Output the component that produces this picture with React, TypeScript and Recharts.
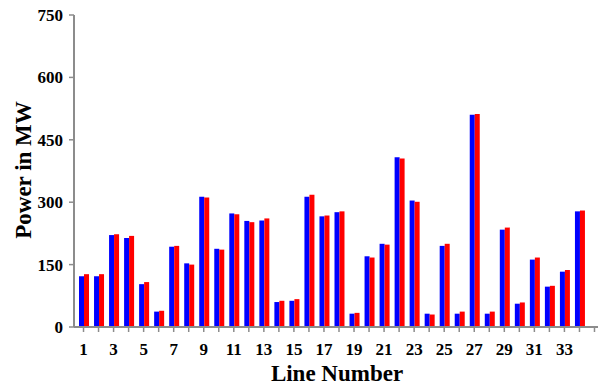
import { BarChart, Bar, XAxis, YAxis } from "recharts";

// ── Data ──────────────────────────────────────────────────────────────────────
const lineNumbers = [
  1, 2, 3, 4, 5, 6, 7, 8, 9, 10, 11, 12, 13, 14, 15, 16, 17,
  18, 19, 20, 21, 22, 23, 24, 25, 26, 27, 28, 29, 30, 31, 32, 33, 34,
];
const bluePower = [
  122, 122, 221, 214, 103, 37, 193, 153, 313, 188, 273, 255, 256, 60, 63, 313, 266,
  276, 32, 170, 200, 408, 304, 32, 195, 32, 510, 32, 234, 56, 162, 97, 133, 278,
];
const redPower = [
  127, 127, 223, 219, 108, 39, 195, 150, 311, 186, 271, 252, 261, 63, 67, 318, 268,
  278, 34, 167, 198, 405, 301, 30, 200, 37, 512, 37, 239, 59, 167, 99, 137, 280,
];
const yTicks = [0, 150, 300, 450, 600, 750];

// one trailing empty slot: the axis runs on past the last line
const data = [
  ...lineNumbers.map((n, i) => ({ line: n, blue: bluePower[i], red: redPower[i] })),
  { line: 35, blue: null, red: null },
];

const AXIS = "#8c8c8c";
const FONT = "'Liberation Serif', 'Times New Roman', serif";

export default function App() {
  return (
    <div
      style={{
        position: "absolute", left: 0, top: 0, width: 598, height: 385,
        overflow: "hidden", background: "#fff",
      }}
    >
      <BarChart
        width={602}
        height={385}
        data={data}
        margin={{ top: 15, right: 0, bottom: 0, left: 0 }}
        barGap={0}
        barCategoryGap="20%"
      >
        <XAxis
          dataKey="line"
          type="category"
          interval={0}
          height={58}
          padding={{ left: 2, right: 0 }}
          axisLine={{ stroke: AXIS, strokeWidth: 2 }}
          tickLine={{ stroke: AXIS, strokeWidth: 1.5 }}
          tickSize={5}
          tickMargin={11}
          tick={{ fontSize: 17, fontWeight: "bold", fill: "#000", fontFamily: FONT }}
          tickFormatter={(v: number) => (v % 2 === 1 && v < 35 ? String(v) : "")}
          label={{
            content: () => (
              <text
                x={337}
                y={381}
                textAnchor="middle"
                fontSize={23}
                fontWeight="bold"
                fontFamily={FONT}
                fill="#000"
              >
                Line Number
              </text>
            ),
          }}
        />
        <YAxis
          domain={[0, 750]}
          ticks={yTicks}
          width={74}
          axisLine={{ stroke: AXIS, strokeWidth: 2 }}
          tickLine={{ stroke: AXIS, strokeWidth: 1.5 }}
          tickSize={5}
          tickMargin={6}
          tick={{ fontSize: 17, fontWeight: "bold", fill: "#000", fontFamily: FONT }}
          label={{
            content: () => (
              <text
                x={0}
                y={0}
                transform="translate(31, 170) rotate(-90)"
                textAnchor="middle"
                fontSize={23}
                fontWeight="bold"
                fontFamily={FONT}
                fill="#000"
              >
                Power in MW
              </text>
            ),
          }}
        />
        <Bar dataKey="blue" fill="#0000ff" isAnimationActive={false} />
        <Bar dataKey="red" fill="#ff0000" isAnimationActive={false} />
      </BarChart>
    </div>
  );
}
